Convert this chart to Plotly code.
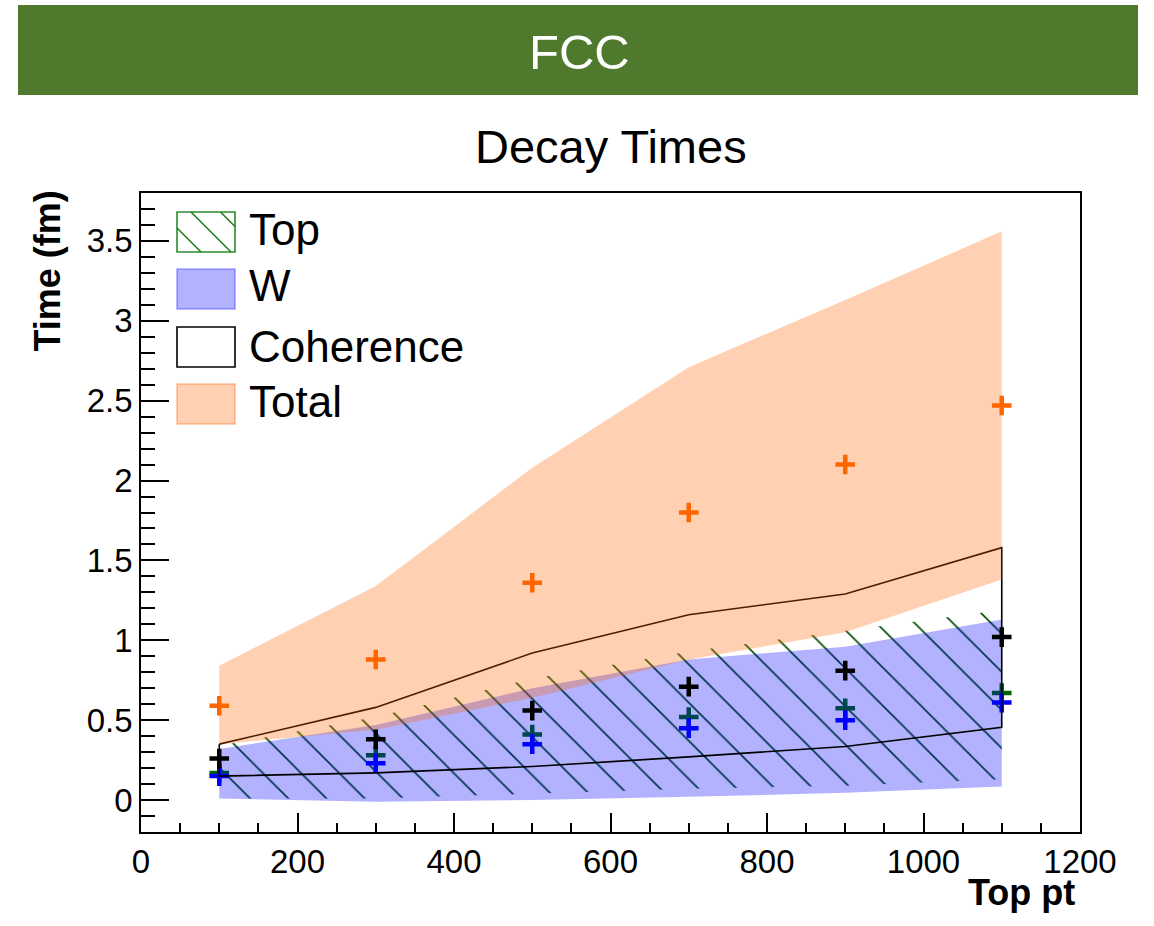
import plotly.graph_objects as go

# Top pt bin centres
pt = [100, 300, 500, 700, 900, 1100]

# Decay times (fm): central values and band edges per component
top_center = [0.17, 0.28, 0.41, 0.52, 0.575, 0.67]
top_low = [0.01, 0.01, 0.04, 0.07, 0.09, 0.13]
top_high = [0.34, 0.52, 0.76, 0.93, 1.06, 1.19]

w_center = [0.15, 0.23, 0.35, 0.45, 0.50, 0.61]
w_low = [0.01, -0.01, 0.0, 0.02, 0.045, 0.085]
w_high = [0.32, 0.47, 0.70, 0.88, 0.96, 1.13]

coh_center = [0.26, 0.38, 0.56, 0.71, 0.81, 1.02]
coh_low = [0.15, 0.17, 0.21, 0.27, 0.335, 0.455]
coh_high = [0.35, 0.58, 0.92, 1.16, 1.29, 1.58]

total_center = [0.59, 0.88, 1.36, 1.80, 2.10, 2.47]
total_low = [0.35, 0.44, 0.64, 0.88, 1.05, 1.38]
total_high = [0.84, 1.34, 2.08, 2.71, 3.13, 3.56]

legend_labels = ["Top", "W", "Coherence", "Total"]

# page / frame geometry (pixels)
W, H = 1154, 926
ML, MR, MT, MB = 141, 74, 193, 94
PW, PH = W - ML - MR, H - MT - MB

FONT = "Liberation Sans, Arial, Helvetica, sans-serif"

TOP_GREEN = "#004a00"
W_FILL = "rgba(0,0,255,0.3)"
TOTAL_FILL = "rgba(255,102,0,0.3)"


def px(x):
    return (x - ML) / PW


def py(y):
    return (H - MB - y) / PH


def band_xy(lo, hi, close=False):
    xs = list(pt) + list(pt[::-1])
    ys = list(hi) + list(lo[::-1])
    if close:
        xs.append(xs[0])
        ys.append(ys[0])
    return xs, ys


def plus_markers(ys, color):
    return go.Scatter(
        x=pt, y=ys, mode="markers", showlegend=False, hoverinfo="skip",
        marker=dict(symbol="cross-thin", size=14,
                    line=dict(color=color, width=4.5)),
    )


fig = go.Figure()

# Top: hatched band
bx, by = band_xy(top_low, top_high)
fig.add_trace(go.Scatter(
    x=bx, y=by, fill="toself", mode="lines", showlegend=False, hoverinfo="skip",
    line=dict(width=0, color="rgba(0,0,0,0)"),
    fillcolor="rgba(0,0,0,0)",
    fillpattern=dict(shape="\\", fgcolor=TOP_GREEN, bgcolor="rgba(0,0,0,0)",
                     fgopacity=1, size=27, solidity=0.06),
))
fig.add_trace(plus_markers(top_center, "#006600"))

# W: blue band
bx, by = band_xy(w_low, w_high)
fig.add_trace(go.Scatter(
    x=bx, y=by, fill="toself", mode="lines", showlegend=False, hoverinfo="skip",
    line=dict(width=0, color="rgba(0,0,0,0)"), fillcolor=W_FILL,
))
fig.add_trace(plus_markers(w_center, "#0000ff"))

# Coherence: outlined band
bx, by = band_xy(coh_low, coh_high, close=True)
fig.add_trace(go.Scatter(
    x=bx, y=by, mode="lines", showlegend=False, hoverinfo="skip",
    line=dict(width=1.6, color="black"),
))

# Total: orange band
bx, by = band_xy(total_low, total_high)
fig.add_trace(go.Scatter(
    x=bx, y=by, fill="toself", mode="lines", showlegend=False, hoverinfo="skip",
    line=dict(width=0, color="rgba(0,0,0,0)"), fillcolor=TOTAL_FILL,
))
fig.add_trace(plus_markers(coh_center, "#000000"))
fig.add_trace(plus_markers(total_center, "#ff6600"))

shapes = []
annotations = []

# green header bar with label
shapes.append(dict(type="rect", xref="paper", yref="paper",
                   x0=px(18), x1=px(1138), y0=py(95), y1=py(5),
                   fillcolor="#4f7a2d", line=dict(width=0), layer="above"))
annotations.append(dict(text="FCC", xref="paper", yref="paper",
                        x=px(579), y=py(52), xanchor="center", yanchor="middle",
                        showarrow=False, font=dict(family=FONT, size=49, color="white")))

# title
annotations.append(dict(text="Decay Times", xref="paper", yref="paper",
                        x=px(611), y=py(146), xanchor="center", yanchor="middle",
                        showarrow=False, font=dict(family=FONT, size=47, color="black")))

# axis titles
annotations.append(dict(text="<b>Time (fm)</b>", xref="paper", yref="paper",
                        x=px(47), y=py(189), xanchor="center", yanchor="top",
                        textangle=-90, showarrow=False,
                        font=dict(family=FONT, size=36, color="black")))
annotations.append(dict(text="<b>Top pt</b>", xref="paper", yref="paper",
                        x=px(1077), y=py(892), xanchor="right", yanchor="middle",
                        showarrow=False, font=dict(family=FONT, size=36, color="black")))

# legend boxes
bx0, bx1 = 177, 235
box_tops = [212, 269, 327, 384]
box_h = 40
text_mid = [229, 285, 346, 401]
box_styles = [
    dict(fillcolor="rgba(0,0,0,0)", line=dict(color="#2a8a2a", width=1.6)),
    dict(fillcolor=W_FILL, line=dict(color="rgba(60,60,255,0.45)", width=1.6)),
    dict(fillcolor="white", line=dict(color="black", width=1.6)),
    dict(fillcolor=TOTAL_FILL, line=dict(color="rgba(255,120,40,0.45)", width=1.6)),
]
for top, style in zip(box_tops, box_styles):
    shapes.append(dict(type="rect", xref="paper", yref="paper",
                       x0=px(bx0), x1=px(bx1), y0=py(top + box_h), y1=py(top),
                       layer="above", **style))

# hatching inside the Top legend box (lines x - y = c, 45 degrees)
ht, hb = box_tops[0], box_tops[0] + box_h
for c in (-51, -21, 8.5):
    xa = max(bx0, ht + c)
    xb = min(bx1, hb + c)
    shapes.append(dict(type="line", xref="paper", yref="paper",
                       x0=px(xa), y0=py(xa - c), x1=px(xb), y1=py(xb - c),
                       line=dict(color="#1f7f1f", width=1.6), layer="above"))

for label, ym in zip(legend_labels, text_mid):
    annotations.append(dict(text=label, xref="paper", yref="paper",
                            x=px(247), y=py(ym), xanchor="left", yanchor="middle",
                            showarrow=False, font=dict(family=FONT, size=44, color="black")))

axis_common = dict(
    showline=True, linecolor="black", linewidth=1.5, mirror=True,
    showgrid=False, zeroline=False, ticks="inside", tickwidth=1.5,
    tickcolor="black", tickfont=dict(family=FONT, size=33, color="black"),
)

fig.update_layout(
    width=W, height=H,
    margin=dict(l=ML, r=MR, t=MT, b=MB),
    paper_bgcolor="white", plot_bgcolor="white",
    showlegend=False,
    xaxis=dict(range=[0, 1200], tick0=0, dtick=200, ticklen=19,
               minor=dict(dtick=50, ticklen=9, ticks="inside", tickcolor="black", tickwidth=1.5),
               **axis_common),
    yaxis=dict(range=[-0.2, 3.8], tick0=0, dtick=0.5, ticklen=28,
               minor=dict(dtick=0.1, ticklen=14, ticks="inside", tickcolor="black", tickwidth=1.5),
               **axis_common),
    shapes=shapes,
    annotations=annotations,
)

fig.write_html("out.html")
